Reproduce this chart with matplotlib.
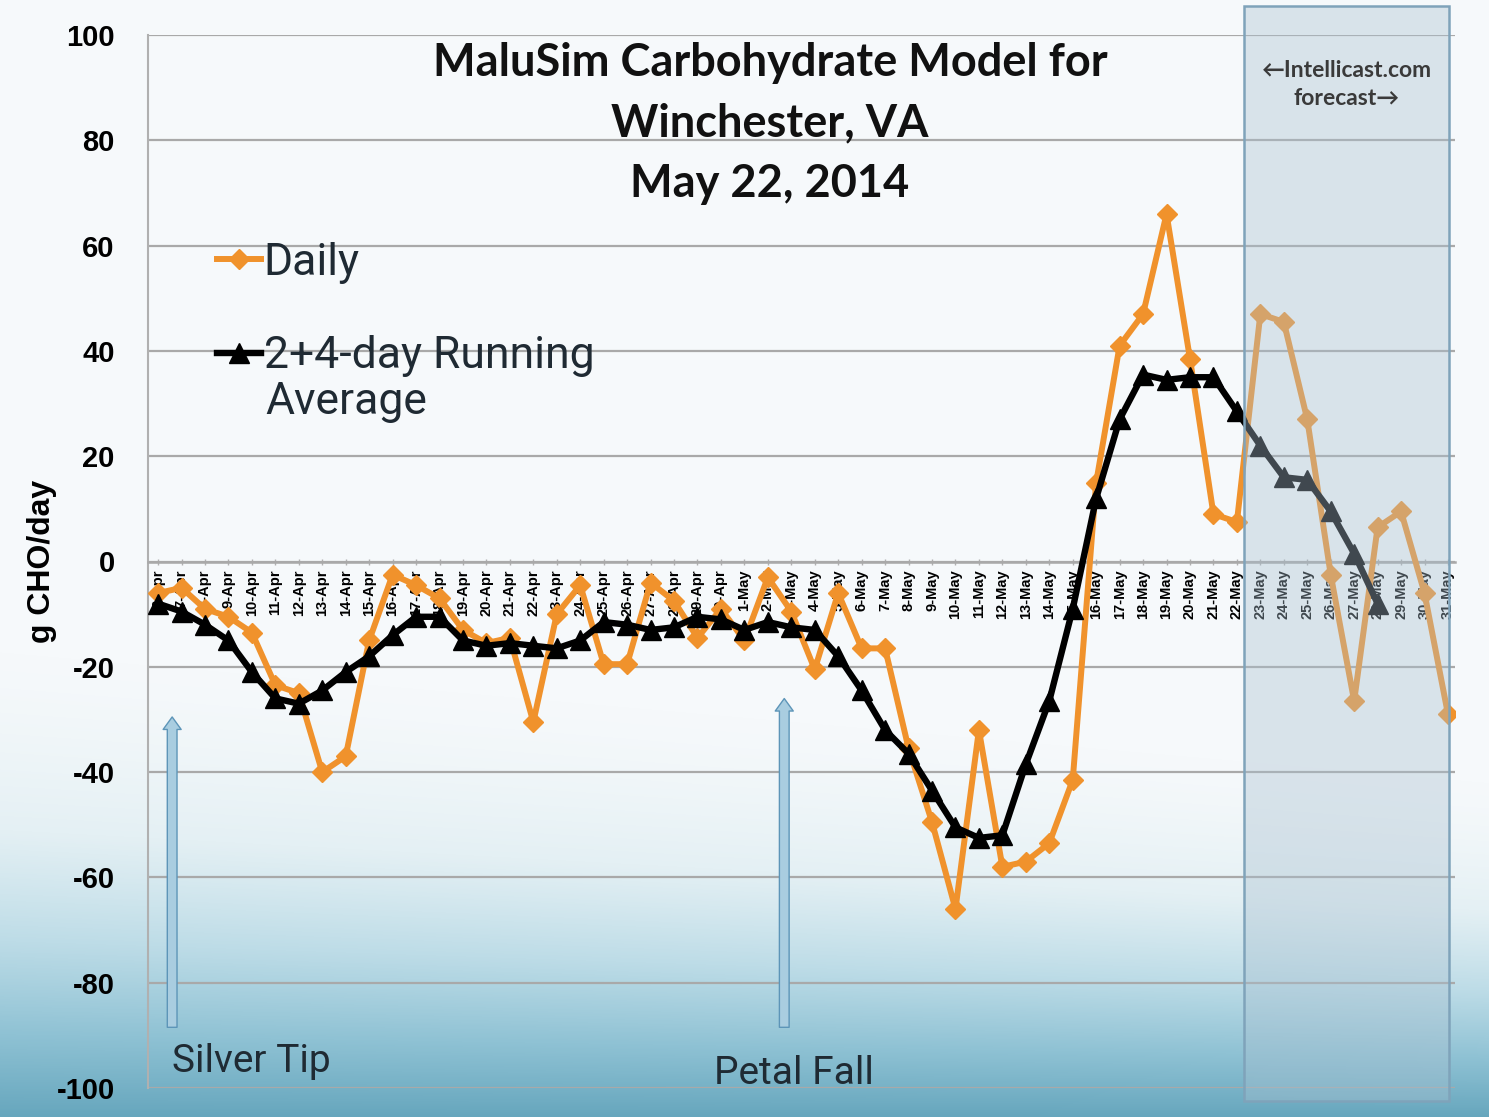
import numpy as np
import matplotlib
matplotlib.use("Agg")
import matplotlib.pyplot as plt
from matplotlib.patches import Rectangle
from matplotlib.colors import LinearSegmentedColormap

OUTPUT_FILE = "out.png"

# Category labels, 6-Apr .. 31-May 2014
DATES = ["6-Apr", "7-Apr", "8-Apr", "9-Apr", "10-Apr", "11-Apr", "12-Apr", "13-Apr",
         "14-Apr", "15-Apr", "16-Apr", "17-Apr", "18-Apr", "19-Apr", "20-Apr", "21-Apr",
         "22-Apr", "23-Apr", "24-Apr", "25-Apr", "26-Apr", "27-Apr", "28-Apr", "29-Apr",
         "30-Apr", "1-May", "2-May", "3-May", "4-May", "5-May", "6-May", "7-May",
         "8-May", "9-May", "10-May", "11-May", "12-May", "13-May", "14-May", "15-May",
         "16-May", "17-May", "18-May", "19-May", "20-May", "21-May", "22-May", "23-May",
         "24-May", "25-May", "26-May", "27-May", "28-May", "29-May", "30-May", "31-May"]

# Daily carbohydrate balance (g CHO/day)
DAILY = [-6, -5, -9, -10.5, -13.5, -23.5, -25, -40, -37, -15,
         -2.5, -4.5, -7, -13, -15.5, -14.5, -30.5, -10, -4.5, -19.5,
         -19.5, -4, -7.5, -14.5, -9, -15, -3, -9.5, -20.5, -6,
         -16.5, -16.5, -35.5, -49.5, -66, -32, -58, -57, -53.5, -41.5,
         15, 41, 47, 66, 38.5, 9, 7.5, 47, 45.5, 27,
         -2.5, -26.5, 6.5, 9.5, -6, -29]

# 2+4-day running average (ends on 28-May)
RUNNING = [-8, -9.5, -12, -15, -21, -26, -27, -24.5, -21, -18,
           -14, -10.5, -10.5, -15, -16, -15.5, -16, -16.5, -15, -11.5,
           -12, -13, -12.5, -10.5, -11, -13, -11.5, -12.5, -13, -18,
           -24.5, -32, -36.5, -43.5, -50.5, -52.5, -52, -38.5, -26.5, -9,
           12, 27, 35.5, 34.5, 35, 35, 28.5, 22, 16, 15.5,
           9.5, 1.5, -8, None, None, None]

YTICKS = [-100, -80, -60, -40, -20, 0, 20, 40, 60, 80, 100]

# Forecast window and growth-stage markers (category positions)
FORECAST_START = 46.3
FORECAST_END = 55.05
SILVER_TIP = 0.6
PETAL_FALL = 26.7

ORANGE = "#f0922c"
TEXT = "#1f2a33"


def background(fig):
    # soft white-to-blue backdrop like the slide template
    h, w = 1117, 1489
    yy, xx = np.mgrid[0:h, 0:w]
    shift = 640 + 0.09 * xx
    t = np.clip((yy - shift) / (h - shift), 0, 1) ** 1.5
    cmap = LinearSegmentedColormap.from_list(
        "bg", ["#f6f9fb", "#e4f0f4", "#bddce7", "#8fc2d4", "#66a6bd"])
    bg = fig.add_axes([0, 0, 1, 1], zorder=-10)
    bg.imshow(t, cmap=cmap, aspect="auto", vmin=0, vmax=1, interpolation="bilinear")
    bg.axis("off")


def plot_chart():
    fig = plt.figure(figsize=(14.89, 11.17), dpi=100)
    background(fig)

    ax = fig.add_axes([148 / 1489, 1 - 1088 / 1117, 1307 / 1489, 1053 / 1117])
    ax.patch.set_alpha(0)

    # axis line through zero (set before tick labels, it resets them)
    for side in ["top", "right"]:
        ax.spines[side].set_visible(False)
    ax.spines["bottom"].set_position(("data", 0))
    ax.spines["bottom"].set_color("#a9a9a9")
    ax.spines["bottom"].set_linewidth(1.8)
    ax.spines["left"].set_color("#b0b0b0")
    ax.spines["left"].set_linewidth(1.5)

    x = np.arange(len(DATES))
    running = np.array([np.nan if v is None else v for v in RUNNING], dtype=float)

    ax.plot(x, DAILY, color=ORANGE, lw=4.3, marker="D", ms=10, mec=ORANGE,
            label="Daily", zorder=3)
    ax.plot(x, running, color="black", lw=4.6, marker="^", ms=15,
            label="2+4-day Running", zorder=4)

    # forecast shading, drawn over the lines
    ax.add_patch(Rectangle((FORECAST_START, -102.5), FORECAST_END - FORECAST_START, 208,
                           facecolor="#a9c0d0", alpha=0.38, edgecolor="none",
                           zorder=6, clip_on=False))
    ax.add_patch(Rectangle((FORECAST_START, -102.5), FORECAST_END - FORECAST_START, 208,
                           facecolor="none", edgecolor="#7fa3ba", lw=1.8,
                           zorder=6, clip_on=False))
    ax.text((FORECAST_START + FORECAST_END) / 2, 95.2, "\u2190Intellicast.com\nforecast\u2192",
            ha="center", va="top", fontsize=16.5, fontweight="bold", color="#3a3a3a",
            family=["Lato", "DejaVu Sans"], linespacing=1.4, zorder=7)

    # growth stage arrows
    for xpos, top in [(SILVER_TIP, -29), (PETAL_FALL, -25.5)]:
        ax.annotate("", xy=(xpos, top), xytext=(xpos, -89),
                    arrowprops=dict(arrowstyle="simple,head_length=0.45,head_width=0.65,tail_width=0.35",
                                    mutation_scale=20, fc="#a9cde0", ec="#5d95b8", lw=1.0),
                    zorder=2)
    ax.text(SILVER_TIP, -95, "Silver Tip", fontsize=28, color=TEXT,
            family="Roboto", ha="left", va="center")
    ax.text(PETAL_FALL - 3, -97.2, "Petal Fall", fontsize=28, color=TEXT,
            family="Roboto", ha="left", va="center")

    ax.set_xlim(-0.43, 55.3)
    ax.set_ylim(-100, 100)
    ax.set_yticks(YTICKS)
    ax.set_yticklabels([str(v) for v in YTICKS], fontsize=21, fontweight="bold",
                       family="Liberation Sans")
    ax.tick_params(axis="y", length=0, pad=24)
    ax.set_xticks(x)
    ax.set_xticklabels(DATES, rotation=90, fontsize=10.5, fontweight="bold",
                       family="Liberation Sans", va="top", ha="center")
    ax.tick_params(axis="x", direction="inout", length=5, width=1, color="#b0b0b0", pad=3)

    ax.grid(axis="y", color="#a9a9a9", lw=1.6, zorder=0)
    ax.set_axisbelow(True)

    ax.set_ylabel("g CHO/day", fontsize=23, fontweight="bold", family="Liberation Sans")
    ax.yaxis.set_label_coords(-0.070, 0.5)

    fig.text(0.517, 1 - 42 / 1117, "MaluSim Carbohydrate Model for\nWinchester, VA\nMay 22, 2014",
             ha="center", va="top", fontsize=32.5, fontweight="bold", family="Lato",
             linespacing=1.55, color="#111111")

    leg = ax.legend(loc="upper left", bbox_to_anchor=(217 / 1489, 1 - 242 / 1117),
                    bbox_transform=fig.transFigure, frameon=False,
                    prop={"family": "Roboto", "size": 32}, handlelength=1.0,
                    handletextpad=0.05, labelspacing=1.15, borderpad=0, borderaxespad=0)
    for t in leg.get_texts():
        t.set_color(TEXT)
    # second line of the running-average label
    fig.text(265 / 1489, 1 - 402 / 1117, "Average", fontsize=32, family="Roboto",
             color=TEXT, ha="left", va="center")

    fig.savefig(OUTPUT_FILE, dpi=100)


if __name__ == "__main__":
    plot_chart()
